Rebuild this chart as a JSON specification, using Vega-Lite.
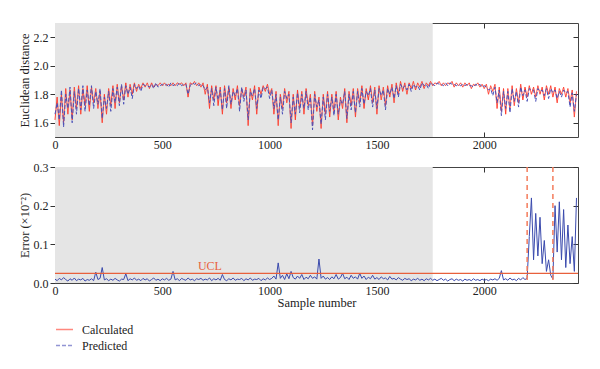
{
"$schema": "https://vega.github.io/schema/vega-lite/v6.json",
"padding": {"left": 18, "top": 22, "right": 5, "bottom": 5},
"bounds": "flush",
"spacing": 30,
"background": "white",
"config": {
  "font": "Liberation Serif",
  "view": {"stroke": null},
  "axis": {"labelFont": "Liberation Serif", "titleFont": "Liberation Serif", "labelFontSize": 12, "titleFontSize": 12.5, "titleFontWeight": "normal", "tickColor": "#333", "domainColor": "#444", "labelColor": "#222", "titleColor": "#222", "grid": false, "zindex": 1, "labelPadding": 2, "titlePadding": 2, "labelFlush": false, "labelOverlap": false},
  "axisX": {"labelPadding": 7, "titlePadding": 0},
  "legend": {"labelFont": "Liberation Serif", "labelFontSize": 12, "labelColor": "#222"}
},
"datasets": {"main": [
{"x":0,"c":1.62,"p":1.66,"e":0.010},{"x":10,"c":1.78,"p":1.74,"e":0.006},{"x":20,"c":1.58,"p":1.62,"e":0.012},{"x":30,"c":1.80,"p":1.83,"e":0.008},{"x":40,"c":1.60,"p":1.57,"e":0.014},
{"x":50,"c":1.84,"p":1.80,"e":0.009},{"x":60,"c":1.66,"p":1.70,"e":0.005},{"x":70,"c":1.83,"p":1.85,"e":0.011},{"x":80,"c":1.62,"p":1.60,"e":0.007},{"x":90,"c":1.85,"p":1.82,"e":0.013},
{"x":100,"c":1.70,"p":1.66,"e":0.006},{"x":110,"c":1.86,"p":1.84,"e":0.010},{"x":120,"c":1.66,"p":1.69,"e":0.008},{"x":130,"c":1.84,"p":1.86,"e":0.012},{"x":140,"c":1.72,"p":1.68,"e":0.005},
{"x":150,"c":1.86,"p":1.83,"e":0.009},{"x":160,"c":1.68,"p":1.72,"e":0.007},{"x":170,"c":1.85,"p":1.86,"e":0.011},{"x":180,"c":1.74,"p":1.70,"e":0.006},{"x":190,"c":1.84,"p":1.82,"e":0.028},
{"x":200,"c":1.70,"p":1.73,"e":0.009},{"x":210,"c":1.82,"p":1.84,"e":0.012},{"x":220,"c":1.60,"p":1.63,"e":0.040},{"x":230,"c":1.80,"p":1.78,"e":0.008},{"x":240,"c":1.66,"p":1.70,"e":0.011},
{"x":250,"c":1.84,"p":1.82,"e":0.006},{"x":260,"c":1.72,"p":1.68,"e":0.010},{"x":270,"c":1.86,"p":1.84,"e":0.007},{"x":280,"c":1.70,"p":1.74,"e":0.012},{"x":290,"c":1.87,"p":1.85,"e":0.008},
{"x":300,"c":1.74,"p":1.72,"e":0.005},{"x":310,"c":1.86,"p":1.87,"e":0.010},{"x":320,"c":1.76,"p":1.73,"e":0.009},{"x":330,"c":1.88,"p":1.86,"e":0.024},{"x":340,"c":1.78,"p":1.80,"e":0.006},
{"x":350,"c":1.87,"p":1.85,"e":0.011},{"x":360,"c":1.80,"p":1.77,"e":0.008},{"x":370,"c":1.88,"p":1.87,"e":0.013},{"x":380,"c":1.82,"p":1.84,"e":0.007},{"x":390,"c":1.87,"p":1.86,"e":0.010},
{"x":400,"c":1.84,"p":1.82,"e":0.006},{"x":410,"c":1.88,"p":1.87,"e":0.012},{"x":420,"c":1.85,"p":1.86,"e":0.008},{"x":430,"c":1.88,"p":1.86,"e":0.011},{"x":440,"c":1.84,"p":1.85,"e":0.005},
{"x":450,"c":1.88,"p":1.87,"e":0.009},{"x":460,"c":1.85,"p":1.84,"e":0.013},{"x":470,"c":1.87,"p":1.88,"e":0.007},{"x":480,"c":1.86,"p":1.85,"e":0.010},{"x":490,"c":1.88,"p":1.86,"e":0.006},
{"x":500,"c":1.86,"p":1.87,"e":0.011},{"x":510,"c":1.88,"p":1.86,"e":0.008},{"x":520,"c":1.86,"p":1.87,"e":0.012},{"x":530,"c":1.87,"p":1.85,"e":0.007},{"x":540,"c":1.86,"p":1.88,"e":0.010},
{"x":550,"c":1.88,"p":1.86,"e":0.030},{"x":560,"c":1.86,"p":1.87,"e":0.008},{"x":570,"c":1.88,"p":1.86,"e":0.011},{"x":580,"c":1.87,"p":1.88,"e":0.006},{"x":590,"c":1.88,"p":1.86,"e":0.012},
{"x":600,"c":1.86,"p":1.87,"e":0.009},{"x":610,"c":1.88,"p":1.87,"e":0.007},{"x":620,"c":1.78,"p":1.80,"e":0.013},{"x":630,"c":1.88,"p":1.86,"e":0.008},{"x":640,"c":1.87,"p":1.88,"e":0.010},
{"x":650,"c":1.89,"p":1.87,"e":0.006},{"x":660,"c":1.86,"p":1.88,"e":0.011},{"x":670,"c":1.88,"p":1.86,"e":0.009},{"x":680,"c":1.85,"p":1.87,"e":0.012},{"x":690,"c":1.88,"p":1.86,"e":0.007},
{"x":700,"c":1.80,"p":1.83,"e":0.010},{"x":710,"c":1.87,"p":1.85,"e":0.008},{"x":720,"c":1.70,"p":1.74,"e":0.013},{"x":730,"c":1.86,"p":1.84,"e":0.006},{"x":740,"c":1.76,"p":1.72,"e":0.011},
{"x":750,"c":1.86,"p":1.85,"e":0.008},{"x":760,"c":1.72,"p":1.76,"e":0.012},{"x":770,"c":1.85,"p":1.83,"e":0.007},{"x":780,"c":1.66,"p":1.69,"e":0.022},{"x":790,"c":1.86,"p":1.84,"e":0.009},
{"x":800,"c":1.74,"p":1.70,"e":0.006},{"x":810,"c":1.85,"p":1.86,"e":0.011},{"x":820,"c":1.70,"p":1.73,"e":0.008},{"x":830,"c":1.84,"p":1.82,"e":0.013},{"x":840,"c":1.76,"p":1.79,"e":0.007},
{"x":850,"c":1.86,"p":1.84,"e":0.010},{"x":860,"c":1.72,"p":1.68,"e":0.009},{"x":870,"c":1.84,"p":1.85,"e":0.012},{"x":880,"c":1.78,"p":1.75,"e":0.006},{"x":890,"c":1.85,"p":1.83,"e":0.011},
{"x":900,"c":1.58,"p":1.62,"e":0.008},{"x":910,"c":1.84,"p":1.82,"e":0.013},{"x":920,"c":1.76,"p":1.79,"e":0.007},{"x":930,"c":1.86,"p":1.84,"e":0.010},{"x":940,"c":1.66,"p":1.70,"e":0.009},
{"x":950,"c":1.85,"p":1.83,"e":0.012},{"x":960,"c":1.80,"p":1.77,"e":0.006},{"x":970,"c":1.86,"p":1.85,"e":0.011},{"x":980,"c":1.82,"p":1.84,"e":0.008},{"x":990,"c":1.87,"p":1.85,"e":0.013},
{"x":1000,"c":1.80,"p":1.77,"e":0.009},{"x":1010,"c":1.84,"p":1.83,"e":0.012},{"x":1020,"c":1.66,"p":1.70,"e":0.018},{"x":1030,"c":1.82,"p":1.80,"e":0.010},{"x":1040,"c":1.58,"p":1.62,"e":0.052},
{"x":1050,"c":1.80,"p":1.78,"e":0.012},{"x":1060,"c":1.70,"p":1.66,"e":0.020},{"x":1070,"c":1.84,"p":1.82,"e":0.009},{"x":1080,"c":1.74,"p":1.77,"e":0.024},{"x":1090,"c":1.82,"p":1.80,"e":0.011},
{"x":1100,"c":1.56,"p":1.60,"e":0.030},{"x":1110,"c":1.80,"p":1.78,"e":0.014},{"x":1120,"c":1.62,"p":1.66,"e":0.010},{"x":1130,"c":1.83,"p":1.81,"e":0.018},{"x":1140,"c":1.70,"p":1.67,"e":0.012},
{"x":1150,"c":1.82,"p":1.80,"e":0.022},{"x":1160,"c":1.66,"p":1.70,"e":0.009},{"x":1170,"c":1.84,"p":1.82,"e":0.015},{"x":1180,"c":1.72,"p":1.69,"e":0.011},{"x":1190,"c":1.80,"p":1.78,"e":0.020},
{"x":1200,"c":1.58,"p":1.55,"e":0.012},{"x":1210,"c":1.82,"p":1.80,"e":0.016},{"x":1220,"c":1.68,"p":1.71,"e":0.010},{"x":1230,"c":1.78,"p":1.76,"e":0.062},{"x":1240,"c":1.56,"p":1.59,"e":0.012},
{"x":1250,"c":1.80,"p":1.78,"e":0.018},{"x":1260,"c":1.66,"p":1.62,"e":0.010},{"x":1270,"c":1.82,"p":1.80,"e":0.014},{"x":1280,"c":1.64,"p":1.68,"e":0.009},{"x":1290,"c":1.80,"p":1.78,"e":0.016},
{"x":1300,"c":1.68,"p":1.65,"e":0.011},{"x":1310,"c":1.82,"p":1.80,"e":0.022},{"x":1320,"c":1.62,"p":1.66,"e":0.010},{"x":1330,"c":1.78,"p":1.76,"e":0.014},{"x":1340,"c":1.70,"p":1.73,"e":0.025},
{"x":1350,"c":1.84,"p":1.82,"e":0.011},{"x":1360,"c":1.60,"p":1.63,"e":0.015},{"x":1370,"c":1.82,"p":1.80,"e":0.009},{"x":1380,"c":1.72,"p":1.69,"e":0.020},{"x":1390,"c":1.84,"p":1.82,"e":0.012},
{"x":1400,"c":1.64,"p":1.67,"e":0.016},{"x":1410,"c":1.84,"p":1.82,"e":0.010},{"x":1420,"c":1.74,"p":1.71,"e":0.025},{"x":1430,"c":1.86,"p":1.84,"e":0.012},{"x":1440,"c":1.70,"p":1.73,"e":0.018},
{"x":1450,"c":1.84,"p":1.82,"e":0.009},{"x":1460,"c":1.76,"p":1.79,"e":0.015},{"x":1470,"c":1.86,"p":1.84,"e":0.011},{"x":1480,"c":1.74,"p":1.71,"e":0.020},{"x":1490,"c":1.85,"p":1.83,"e":0.010},
{"x":1500,"c":1.66,"p":1.70,"e":0.014},{"x":1510,"c":1.86,"p":1.84,"e":0.009},{"x":1520,"c":1.76,"p":1.79,"e":0.016},{"x":1530,"c":1.85,"p":1.83,"e":0.011},{"x":1540,"c":1.72,"p":1.69,"e":0.013},
{"x":1550,"c":1.86,"p":1.84,"e":0.008},{"x":1560,"c":1.78,"p":1.80,"e":0.017},{"x":1570,"c":1.87,"p":1.85,"e":0.010},{"x":1580,"c":1.74,"p":1.77,"e":0.012},{"x":1590,"c":1.88,"p":1.86,"e":0.008},
{"x":1600,"c":1.80,"p":1.78,"e":0.014},{"x":1610,"c":1.89,"p":1.87,"e":0.010},{"x":1620,"c":1.82,"p":1.84,"e":0.007},{"x":1630,"c":1.88,"p":1.86,"e":0.012},{"x":1640,"c":1.80,"p":1.83,"e":0.009},
{"x":1650,"c":1.88,"p":1.87,"e":0.011},{"x":1660,"c":1.84,"p":1.82,"e":0.006},{"x":1670,"c":1.89,"p":1.87,"e":0.010},{"x":1680,"c":1.83,"p":1.85,"e":0.008},{"x":1690,"c":1.88,"p":1.86,"e":0.012},
{"x":1700,"c":1.85,"p":1.83,"e":0.007},{"x":1710,"c":1.89,"p":1.88,"e":0.010},{"x":1720,"c":1.84,"p":1.86,"e":0.006},{"x":1730,"c":1.88,"p":1.87,"e":0.011},{"x":1740,"c":1.86,"p":1.84,"e":0.008},
{"x":1750,"c":1.89,"p":1.88,"e":0.012},{"x":1760,"c":1.86,"p":1.87,"e":0.007},{"x":1770,"c":1.88,"p":1.86,"e":0.010},{"x":1780,"c":1.87,"p":1.88,"e":0.006},{"x":1790,"c":1.89,"p":1.87,"e":0.009},
{"x":1800,"c":1.86,"p":1.87,"e":0.012},{"x":1810,"c":1.88,"p":1.86,"e":0.007},{"x":1820,"c":1.86,"p":1.88,"e":0.010},{"x":1830,"c":1.88,"p":1.86,"e":0.005},{"x":1840,"c":1.87,"p":1.88,"e":0.009},
{"x":1850,"c":1.89,"p":1.87,"e":0.011},{"x":1860,"c":1.85,"p":1.87,"e":0.006},{"x":1870,"c":1.88,"p":1.86,"e":0.010},{"x":1880,"c":1.86,"p":1.87,"e":0.007},{"x":1890,"c":1.88,"p":1.86,"e":0.009},
{"x":1900,"c":1.85,"p":1.87,"e":0.005},{"x":1910,"c":1.88,"p":1.86,"e":0.010},{"x":1920,"c":1.86,"p":1.87,"e":0.007},{"x":1930,"c":1.88,"p":1.86,"e":0.009},{"x":1940,"c":1.84,"p":1.86,"e":0.006},
{"x":1950,"c":1.87,"p":1.85,"e":0.011},{"x":1960,"c":1.86,"p":1.87,"e":0.007},{"x":1970,"c":1.88,"p":1.86,"e":0.009},{"x":1980,"c":1.85,"p":1.87,"e":0.006},{"x":1990,"c":1.87,"p":1.85,"e":0.010},
{"x":2000,"c":1.84,"p":1.86,"e":0.007},{"x":2010,"c":1.87,"p":1.85,"e":0.009},{"x":2020,"c":1.80,"p":1.83,"e":0.006},{"x":2030,"c":1.86,"p":1.84,"e":0.010},{"x":2040,"c":1.82,"p":1.79,"e":0.008},
{"x":2050,"c":1.87,"p":1.85,"e":0.011},{"x":2060,"c":1.70,"p":1.74,"e":0.007},{"x":2070,"c":1.85,"p":1.83,"e":0.012},{"x":2080,"c":1.68,"p":1.65,"e":0.032},{"x":2090,"c":1.84,"p":1.82,"e":0.008},
{"x":2100,"c":1.66,"p":1.70,"e":0.011},{"x":2110,"c":1.84,"p":1.82,"e":0.007},{"x":2120,"c":1.70,"p":1.67,"e":0.013},{"x":2130,"c":1.86,"p":1.84,"e":0.008},{"x":2140,"c":1.72,"p":1.75,"e":0.010},
{"x":2150,"c":1.84,"p":1.82,"e":0.006},{"x":2160,"c":1.74,"p":1.71,"e":0.012},{"x":2170,"c":1.87,"p":1.85,"e":0.008},{"x":2180,"c":1.76,"p":1.79,"e":0.014},{"x":2190,"c":1.85,"p":1.83,"e":0.009},
{"x":2200,"c":1.78,"p":1.75,"e":0.012},{"x":2210,"c":1.86,"p":1.84,"e":0.120},{"x":2220,"c":1.80,"p":1.83,"e":0.220},{"x":2230,"c":1.85,"p":1.83,"e":0.060},{"x":2240,"c":1.78,"p":1.75,"e":0.180},
{"x":2250,"c":1.86,"p":1.84,"e":0.070},{"x":2260,"c":1.80,"p":1.82,"e":0.170},{"x":2270,"c":1.85,"p":1.83,"e":0.050},{"x":2280,"c":1.76,"p":1.79,"e":0.110},{"x":2290,"c":1.86,"p":1.84,"e":0.030},
{"x":2300,"c":1.80,"p":1.77,"e":0.060},{"x":2310,"c":1.86,"p":1.84,"e":0.020},{"x":2320,"c":1.78,"p":1.81,"e":0.010},{"x":2330,"c":1.85,"p":1.83,"e":0.200},{"x":2340,"c":1.74,"p":1.77,"e":0.080},
{"x":2350,"c":1.84,"p":1.82,"e":0.210},{"x":2360,"c":1.80,"p":1.78,"e":0.060},{"x":2370,"c":1.85,"p":1.83,"e":0.190},{"x":2380,"c":1.78,"p":1.81,"e":0.040},{"x":2390,"c":1.84,"p":1.82,"e":0.150},
{"x":2400,"c":1.74,"p":1.71,"e":0.050},{"x":2410,"c":1.83,"p":1.81,"e":0.120},{"x":2420,"c":1.64,"p":1.68,"e":0.030},{"x":2430,"c":1.82,"p":1.80,"e":0.220}
]},
"vconcat": [
{
  "width": 523, "height": 114,
  "layer": [
    {"data": {"values": [{}]}, "mark": {"type": "rect", "color": "#e5e5e5"},
     "encoding": {
       "x": {"datum": 0, "type": "quantitative", "scale": {"domain": [0, 2437], "nice": false}, "axis": {"orient": "top", "values": [0, 500, 1000, 1500, 2000], "labels": false, "tickSize": -5, "title": null}},
       "x2": {"datum": 1760},
       "y": {"datum": 2.3, "type": "quantitative", "scale": {"domain": [1.5, 2.3], "nice": false}, "axis": {"orient": "right", "values": [1.6, 1.8, 2.0, 2.2], "labels": false, "tickSize": -5, "title": null}},
       "y2": {"datum": 1.5}
     }},
    {"data": {"name": "main"}, "transform": [{"fold": ["c", "p"], "as": ["s", "v"]}],
     "mark": {"type": "line", "strokeWidth": 1},
     "encoding": {
       "x": {"field": "x", "type": "quantitative", "scale": {"domain": [0, 2437], "nice": false}, "axis": {"orient": "bottom", "values": [0, 500, 1000, 1500, 2000], "format": "d", "tickSize": -5, "title": null}},
       "y": {"field": "v", "type": "quantitative", "scale": {"domain": [1.5, 2.3], "nice": false}, "axis": {"orient": "left", "values": [1.6, 1.8, 2.0, 2.2], "format": ".1f", "tickSize": 5, "title": "Euclidean distance"}},
       "color": {"field": "s", "type": "nominal", "scale": {"domain": ["c", "p"], "range": ["#ff3a2a", "#4a50b8"]},
         "legend": {"orient": "none", "legendX": 0, "legendY": 297, "title": null, "symbolType": "stroke", "symbolSize": 289, "symbolStrokeWidth": 1.5, "symbolOpacity": 0.6, "rowPadding": 0, "labelOffset": 8, "labelExpr": "datum.label == 'c' ? 'Calculated' : 'Predicted'"}},
       "strokeDash": {"field": "s", "type": "nominal", "scale": {"domain": ["c", "p"], "range": [[1, 0], [4, 2]]},
         "legend": {"orient": "none", "legendX": 0, "legendY": 297, "title": null, "symbolType": "stroke", "symbolSize": 289, "symbolStrokeWidth": 1.5, "symbolOpacity": 0.6, "rowPadding": 0, "labelOffset": 8, "labelExpr": "datum.label == 'c' ? 'Calculated' : 'Predicted'"}}
     }}
  ],
  "resolve": {"scale": {"x": "independent", "y": "independent"}}
},
{
  "width": 523, "height": 116,
  "layer": [
    {"data": {"values": [{}]}, "mark": {"type": "rect", "color": "#e5e5e5"},
     "encoding": {
       "x": {"datum": 0, "type": "quantitative", "scale": {"domain": [0, 2437], "nice": false}, "axis": {"orient": "top", "values": [0, 500, 1000, 1500, 2000], "labels": false, "tickSize": -5, "title": null}},
       "x2": {"datum": 1760},
       "y": {"datum": 0.3, "type": "quantitative", "scale": {"domain": [0, 0.3], "nice": false}, "axis": {"orient": "right", "values": [0, 0.1, 0.2, 0.3], "labels": false, "tickSize": -5, "title": null}},
       "y2": {"datum": 0}
     }},
    {"layer": [
      {"data": {"name": "main"}, "mark": {"type": "line", "color": "#3a4aad", "strokeWidth": 1},
       "encoding": {
         "x": {"field": "x", "type": "quantitative", "scale": {"domain": [0, 2437], "nice": false}, "axis": {"orient": "bottom", "values": [0, 500, 1000, 1500, 2000], "format": "d", "tickSize": -5, "title": "Sample number"}},
         "y": {"field": "e", "type": "quantitative", "scale": {"domain": [0, 0.3], "nice": false}, "axis": {"orient": "left", "values": [0, 0.1, 0.2, 0.3], "format": ".1f", "tickSize": 5, "title": "Error (×10⁻²)"}}
       }},
      {"data": {"values": [{"e": 0.025}]}, "mark": {"type": "rule", "color": "#e8603c", "strokeWidth": 1.2},
       "encoding": {"y": {"field": "e", "type": "quantitative", "axis": {"orient": "left", "values": [0, 0.1, 0.2, 0.3], "format": ".1f", "tickSize": 5, "title": "Error (×10⁻²)"}}}},
      {"data": {"values": [{"x": 2200}, {"x": 2320}]}, "mark": {"type": "rule", "color": "#f47c5c", "strokeDash": [5, 4], "strokeWidth": 1.5},
       "encoding": {"x": {"field": "x", "type": "quantitative", "axis": {"orient": "bottom", "values": [0, 500, 1000, 1500, 2000], "format": "d", "tickSize": -5, "title": "Sample number"}}}},
      {"data": {"values": [{"x": 722, "e": 0.044, "label": "UCL"}]}, "mark": {"type": "text", "color": "#e8603c", "fontSize": 12, "font": "Liberation Serif"},
       "encoding": {
         "x": {"field": "x", "type": "quantitative", "axis": {"orient": "bottom", "values": [0, 500, 1000, 1500, 2000], "format": "d", "tickSize": -5, "title": "Sample number"}},
         "y": {"field": "e", "type": "quantitative", "axis": {"orient": "left", "values": [0, 0.1, 0.2, 0.3], "format": ".1f", "tickSize": 5, "title": "Error (×10⁻²)"}},
         "text": {"field": "label"}}}
    ]}
  ],
  "resolve": {"scale": {"x": "independent", "y": "independent"}}
}
]
}
